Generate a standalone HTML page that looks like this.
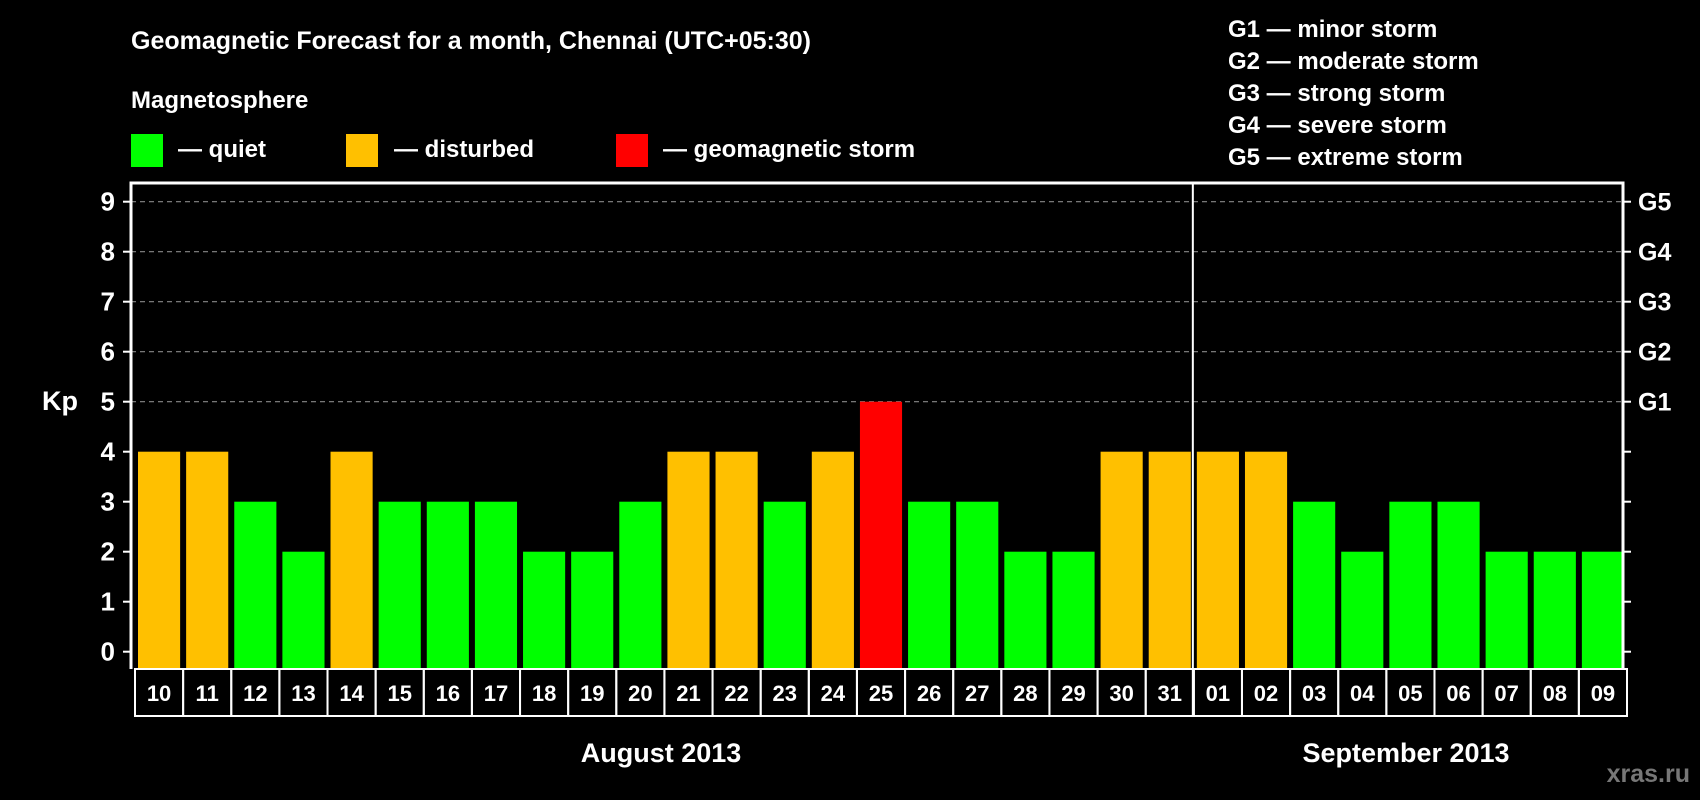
<!DOCTYPE html>
<html><head><meta charset="utf-8"><style>
html,body{margin:0;padding:0;background:#000;}
svg{display:block;font-family:"Liberation Sans",sans-serif;font-weight:bold;}
</style></head><body>
<svg id="chart" width="1700" height="800" viewBox="0 0 1700 800" xmlns="http://www.w3.org/2000/svg">
<rect width="1700" height="800" fill="#000"/>
<text x="131" y="49" fill="#fff" font-size="25">Geomagnetic Forecast for a month, Chennai (UTC+05:30)</text>
<text x="131" y="108" fill="#fff" font-size="24">Magnetosphere</text>
<g><rect x="131" y="134" width="32" height="33" fill="#00ff00"/><text x="178" y="157" fill="#fff" font-size="24">— quiet</text></g>
<g><rect x="346" y="134" width="32" height="33" fill="#ffc000"/><text x="394" y="157" fill="#fff" font-size="24">— disturbed</text></g>
<g><rect x="616" y="134" width="32" height="33" fill="#ff0000"/><text x="663" y="157" fill="#fff" font-size="24">— geomagnetic storm</text></g>
<g fill="#fff" font-size="24">
<text x="1228" y="37">G1 — minor storm</text>
<text x="1228" y="69">G2 — moderate storm</text>
<text x="1228" y="101">G3 — strong storm</text>
<text x="1228" y="133">G4 — severe storm</text>
<text x="1228" y="165">G5 — extreme storm</text>
</g>
<text x="42" y="410" fill="#fff" font-size="27">Kp</text>
<g id="grid"></g><g id="bars"></g><g id="axes"></g>
<text x="661" y="762" fill="#fff" font-size="27" text-anchor="middle">August 2013</text>
<text x="1406" y="762" fill="#fff" font-size="27" text-anchor="middle">September 2013</text>
<text x="1690" y="782" fill="#777" font-size="25" text-anchor="end">xras.ru</text>
</svg>
<script>
const days=["10","11","12","13","14","15","16","17","18","19","20","21","22","23","24","25","26","27","28","29","30","31","01","02","03","04","05","06","07","08","09"];
const kp=[4,4,3,2,4,3,3,3,2,2,3,4,4,3,4,5,3,3,2,2,4,4,4,4,3,2,3,3,2,2,2];
const yTicks=[0,1,2,3,4,5,6,7,8,9];
const gLabels=["G1","G2","G3","G4","G5"];
const NS="http://www.w3.org/2000/svg";
const L=131,R=1623,T=183,B=669,cellW=(R-L)/days.length;
function y(v){return 651.7-50*v;}
function x(i){return L+4+cellW*i;}
function mk(tag,attrs,parent,txt){const e=document.createElementNS(NS,tag);for(const k in attrs)e.setAttribute(k,attrs[k]);if(txt!==undefined)e.textContent=txt;parent.appendChild(e);return e;}
function color(v){return v>=5?"#ff0000":(v>=4?"#ffc000":"#00ff00");}
const grid=document.getElementById("grid"),bars=document.getElementById("bars"),axes=document.getElementById("axes");
yTicks.forEach(v=>{
 if(v>=5){const g=mk("line",{x1:L,x2:R,y1:y(v),y2:y(v),stroke:"#888","stroke-width":1.2,"stroke-dasharray":"5,4"},grid);
 
 }
 const t=mk("line",{x1:L-8,x2:L,y1:y(v),y2:y(v),stroke:"#fff","stroke-width":2},axes);
 
 
 const t2=mk("line",{x1:R,x2:R+8,y1:y(v),y2:y(v),stroke:"#fff","stroke-width":2},axes);
 
 
 const lb=mk("text",{x:115,y:y(v)+9,fill:"#fff","font-size":26,"text-anchor":"end"},axes,String(v));
 
 
});
gLabels.forEach((g,i)=>{
 const t=mk("text",{x:1638,y:y(5+i)+9,fill:"#fff","font-size":25},axes,g);
 
 
});
kp.forEach((v,i)=>{
 const r=mk("rect",{x:x(i)+3,y:y(v),width:cellW-6,height:B-1-y(v),fill:color(v)},bars);
 
 
 const c=mk("rect",{x:L+cellW*i+4,y:B,width:cellW,height:47,fill:"none",stroke:"#fff","stroke-width":2},axes);
 
 
 const t=mk("text",{x:L+4+cellW*i+cellW/2,y:701,fill:"#fff","font-size":22,"text-anchor":"middle"},axes,days[i]);
 
 
});
const fr=mk("path",{d:`M${L} ${B}V${T}H${R}V${B}`,fill:"none",stroke:"#fff","stroke-width":3},axes);


const sepIdx=days.indexOf("01");
const sx=L+4+cellW*sepIdx-1;
const sp=mk("line",{x1:sx,x2:sx,y1:T,y2:B+47,stroke:"#fff","stroke-width":2},axes);


</script>
</body></html>
